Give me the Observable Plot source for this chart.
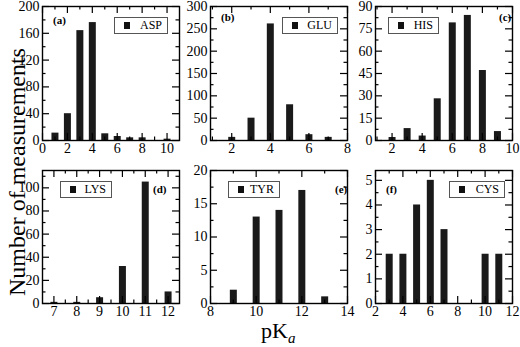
<!DOCTYPE html>
<html><head><meta charset="utf-8">
<script src="https://cdn.jsdelivr.net/npm/d3@7"></script>
<script src="https://cdn.jsdelivr.net/npm/@observablehq/plot@0.6"></script>
<style>
html,body{margin:0;padding:0;background:#fff;}
#chart{position:relative;width:520px;height:347px;overflow:hidden;font-family:"Liberation Serif","Times New Roman",serif;color:#000;}
.panel{position:absolute;}
.legend{position:absolute;border:1px solid #555;background:#fff;box-sizing:border-box;height:17px;font-size:12px;line-height:15px;}
.legend .sw{position:absolute;left:9px;top:4px;width:6px;height:7px;background:#111;}
.legend .lbl{position:absolute;right:5px;top:0;}
.tag{position:absolute;font-size:11px;font-weight:bold;line-height:11px;}
.ylab{position:absolute;left:17px;top:172px;transform:translate(-50%,-50%) rotate(-90deg);font-size:24px;white-space:nowrap;}
.xlab{position:absolute;left:261px;top:318px;font-size:22px;white-space:nowrap;}
.xlab sub{font-style:italic;font-size:15px;vertical-align:-5px;}
</style>
</head><body>
<div id="chart"></div>
<script>
// ---- data ----
const residues = ["ASP", "GLU", "HIS", "LYS", "TYR", "CYS"];
const tags = ["(a)", "(b)", "(c)", "(d)", "(e)", "(f)"];

const pkaASP = [1, 2, 3, 4, 5, 6, 7, 8, 10];
const countASP = [11, 40, 164, 176, 10, 6, 4, 4, 2];
const pkaGLU = [2, 3, 4, 5, 6, 7];
const countGLU = [7, 50, 261, 80, 13, 7];
const pkaHIS = [2, 3, 4, 5, 6, 7, 8, 9];
const countHIS = [2, 8, 3, 28, 79, 84, 47, 6];
const pkaLYS = [7, 8, 9, 10, 11, 12];
const countLYS = [1, 1, 5, 32, 105, 10];
const pkaTYR = [9, 10, 11, 12, 13];
const countTYR = [2, 13, 14, 17, 1];
const pkaCYS = [3, 4, 5, 6, 7, 10, 11];
const countCYS = [2, 2, 4, 5, 3, 2, 2];

// tick labels (major) and minor tick positions
const xTicksASP = [0, 2, 4, 6, 8, 10], xMinorASP = [1, 3, 5, 7, 9];
const yTicksASP = [0, 40, 80, 120, 160, 200], yMinorASP = [20, 60, 100, 140, 180];
const xTicksGLU = [2, 4, 6, 8], xMinorGLU = [1, 3, 5, 7];
const yTicksGLU = [0, 50, 100, 150, 200, 250, 300], yMinorGLU = [25, 75, 125, 175, 225, 275];
const xTicksHIS = [2, 4, 6, 8, 10], xMinorHIS = [1, 3, 5, 7, 9];
const yTicksHIS = [0, 15, 30, 45, 60, 75, 90], yMinorHIS = [7.5, 22.5, 37.5, 52.5, 67.5, 82.5];
const xTicksLYS = [7, 8, 9, 10, 11, 12], xMinorLYS = [7.5, 8.5, 9.5, 10.5, 11.5];
const yTicksLYS = [0, 20, 40, 60, 80, 100], yMinorLYS = [10, 30, 50, 70, 90, 110];
const xTicksTYR = [8, 10, 12, 14], xMinorTYR = [9, 11, 13];
const yTicksTYR = [0, 5, 10, 15, 20], yMinorTYR = [2.5, 7.5, 12.5, 17.5];
const xTicksCYS = [2, 4, 6, 8, 10, 12], xMinorCYS = [3, 5, 7, 9, 11];
const yTicksCYS = [0, 1, 2, 3, 4, 5], yMinorCYS = [0.5, 1.5, 2.5, 3.5, 4.5];

const xDomains = [[0, 11], [0.9, 8], [0.9, 10], [6.5, 12.5], [8, 14], [2, 12]];
const yDomains = [[0, 200], [0, 300], [0, 90], [0, 115], [0, 20], [0, 5.4]];

const pkas = [pkaASP, pkaGLU, pkaHIS, pkaLYS, pkaTYR, pkaCYS];
const counts = [countASP, countGLU, countHIS, countLYS, countTYR, countCYS];
const xTicks = [xTicksASP, xTicksGLU, xTicksHIS, xTicksLYS, xTicksTYR, xTicksCYS];
const xMinors = [xMinorASP, xMinorGLU, xMinorHIS, xMinorLYS, xMinorTYR, xMinorCYS];
const yTicks = [yTicksASP, yTicksGLU, yTicksHIS, yTicksLYS, yTicksTYR, yTicksCYS];
const yMinors = [yMinorASP, yMinorGLU, yMinorHIS, yMinorLYS, yMinorTYR, yMinorCYS];

// ---- layout (pixels) ----
const frameX = [42, 210, 375, 42, 210, 375];
const frameY = [6, 6, 6, 170, 170, 170];
const frameH = [134, 134, 134, 133, 133, 133];
const frameW = 137;
const legendPos = [[114, 17, 54], [282, 17, 56], [388, 17, 51], [60, 181, 52], [228, 181, 52], [449, 181, 56]];
const tagPos = [[53, 15], [221, 12], [499, 12], [153, 184], [335, 184], [386, 184]];

const chart = document.getElementById("chart");
const ml = 40, mr = 8, mt = 8, mb = 24;
const LEN = 7, LENM = 3.5;
const fmt = d3.format("~g");

residues.forEach((res, i) => {
  const W = frameW, H = frameH[i];
  const data = pkas[i].map((x, j) => ({x, n: counts[i][j]}));
  const tickStyle = {strokeWidth: 1.2};
  const svg = Plot.plot({
    width: W + ml + mr,
    height: H + mt + mb,
    marginLeft: ml, marginRight: mr, marginTop: mt, marginBottom: mb,
    style: {fontFamily: "Liberation Serif, Times New Roman, serif", fontSize: "14px", background: "transparent", overflow: "visible", color: "#000"},
    x: {domain: xDomains[i], ticks: xTicks[i], tickFormat: fmt, tickSize: 0, tickPadding: 3, label: null},
    y: {domain: yDomains[i], ticks: yTicks[i], tickFormat: fmt, tickSize: 0, tickPadding: 3, label: null},
    marks: [
      Plot.ruleX(data, {x: "x", y1: 0, y2: "n", stroke: "#1a1a1a", strokeWidth: 7}),
      Plot.tickY(yTicks[i], {y: d => d, insetRight: W - LEN, ...tickStyle}),
      Plot.tickY(yTicks[i], {y: d => d, insetLeft: W - LEN, ...tickStyle}),
      Plot.tickY(yMinors[i], {y: d => d, insetRight: W - LENM, ...tickStyle}),
      Plot.tickY(yMinors[i], {y: d => d, insetLeft: W - LENM, ...tickStyle}),
      Plot.tickX(xTicks[i], {x: d => d, insetTop: H - LEN, ...tickStyle}),
      Plot.tickX(xTicks[i], {x: d => d, insetBottom: H - LEN, ...tickStyle}),
      Plot.tickX(xMinors[i], {x: d => d, insetTop: H - LENM, ...tickStyle}),
      Plot.tickX(xMinors[i], {x: d => d, insetBottom: H - LENM, ...tickStyle}),
      Plot.frame({stroke: "#000", strokeWidth: 1.4})
    ]
  });
  const div = document.createElement("div");
  div.className = "panel";
  div.style.left = (frameX[i] - ml) + "px";
  div.style.top = (frameY[i] - mt) + "px";
  div.appendChild(svg);
  chart.appendChild(div);

  const lg = document.createElement("div");
  lg.className = "legend";
  lg.style.left = legendPos[i][0] + "px";
  lg.style.top = legendPos[i][1] + "px";
  lg.style.width = legendPos[i][2] + "px";
  lg.innerHTML = `<div class="sw"></div><span class="lbl">${res}</span>`;
  chart.appendChild(lg);

  const tg = document.createElement("div");
  tg.className = "tag";
  tg.style.left = tagPos[i][0] + "px";
  tg.style.top = tagPos[i][1] + "px";
  tg.textContent = tags[i];
  chart.appendChild(tg);
});

const yl = document.createElement("div");
yl.className = "ylab";
yl.textContent = "Number of measurements";
chart.appendChild(yl);
const xl = document.createElement("div");
xl.className = "xlab";
xl.innerHTML = "pK<sub>a</sub>";
chart.appendChild(xl);
</script>
</body></html>
